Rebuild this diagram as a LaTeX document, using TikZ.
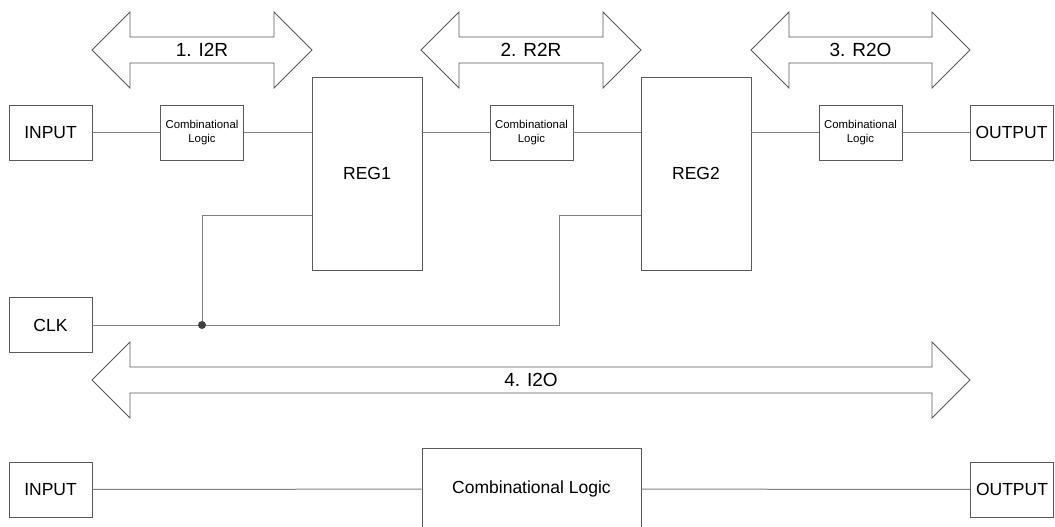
\documentclass[tikz,border=0pt]{standalone}
\usepackage{fontspec}
\setmainfont{Liberation Sans}
\usepackage{tikz}
\usetikzlibrary{positioning}

\begin{document}
\begin{tikzpicture}[x=1pt,y=-1pt,
	blk/.style={draw=black!65, line width=0.8pt, fill=white, inner sep=0pt, align=center,
		font=\fontsize{17.5}{20}\selectfont},
	smallblk/.style={blk, minimum width=83pt, minimum height=55pt,
		font=\fontsize{11.4}{14}\selectfont},
	wire/.style={draw=black!50, line width=1pt},
	bigarrow/.style={draw=black!65, line width=0.8pt, fill=white}]
	\useasboundingbox (0,0) rectangle (1055,527);
	\clip (0,0) rectangle (1055,527);
	% width arrows
	\foreach \a/\b/\yc/\t/\n in {92/312/50/1. I2R/1,421/641/50/2. R2R/2,751/970/50/3. R2O/3,92/970/380/4. I2O/4}
	{
		\filldraw[bigarrow] (\a,\yc) -- (\a+38,\yc-38) -- (\a+38,\yc-13) -- (\b-38,\yc-13) -- (\b-38,\yc-38)
			-- (\b,\yc) -- (\b-38,\yc+38) -- (\b-38,\yc+13) -- (\a+38,\yc+13) -- (\a+38,\yc+38) -- cycle;
		\node[font=\fontsize{19}{22}\selectfont] (lbl\n) at ({(\a+\b)/2},\yc) {\t};
	}
	% register path
	\node[blk, minimum width=83pt, minimum height=55pt] (in1) at (50.5,132.5) {INPUT};
	\node[smallblk] (cl1) at (202,132.5) {Combinational\\Logic};
	\node[blk, minimum width=110pt, minimum height=193pt] (reg1) at (367,173.5) {REG1};
	\node[smallblk] (cl2) at (531.5,132.5) {Combinational\\Logic};
	\node[blk, minimum width=110pt, minimum height=193pt] (reg2) at (696,173.5) {REG2};
	\node[smallblk] (cl3) at (860.5,132.5) {Combinational\\Logic};
	\node[blk, minimum width=83pt, minimum height=55pt] (out1) at (1011.5,132.5) {OUTPUT};
	\node[blk, minimum width=83pt, minimum height=55pt] (clk) at (50.5,325) {CLK};
	\draw[wire] (in1) -- (cl1);
	\draw[wire] (cl1) -- (cl1 -| reg1.west);
	\draw[wire] (reg1.east |- cl2) -- (cl2);
	\draw[wire] (cl2) -- (cl2 -| reg2.west);
	\draw[wire] (reg2.east |- cl3) -- (cl3);
	\draw[wire] (cl3) -- (out1);
	% clock
	\coordinate (ck) at (0,215);
	\coordinate (j1) at (202,325);
	\coordinate (j2) at (559,325);
	\draw[wire] (clk) -- (j2) |- (reg2.west |- ck);
	\draw[wire] (j1) |- (reg1.west |- ck);
	\fill[black!75] (j1) circle (4pt);
	% combinational only
	\node[blk, minimum width=83pt, minimum height=55pt] (in2) at (50.5,489.5) {INPUT};
	\node[blk, minimum width=219pt, minimum height=82pt] (cl4) at (531.5,489) {Combinational Logic};
	\node[blk, minimum width=83pt, minimum height=55pt] (out2) at (1012,489.5) {OUTPUT};
	\draw[wire] (in2) -- (cl4);
	\draw[wire] (cl4) -- (out2);
\end{tikzpicture}
\end{document}
